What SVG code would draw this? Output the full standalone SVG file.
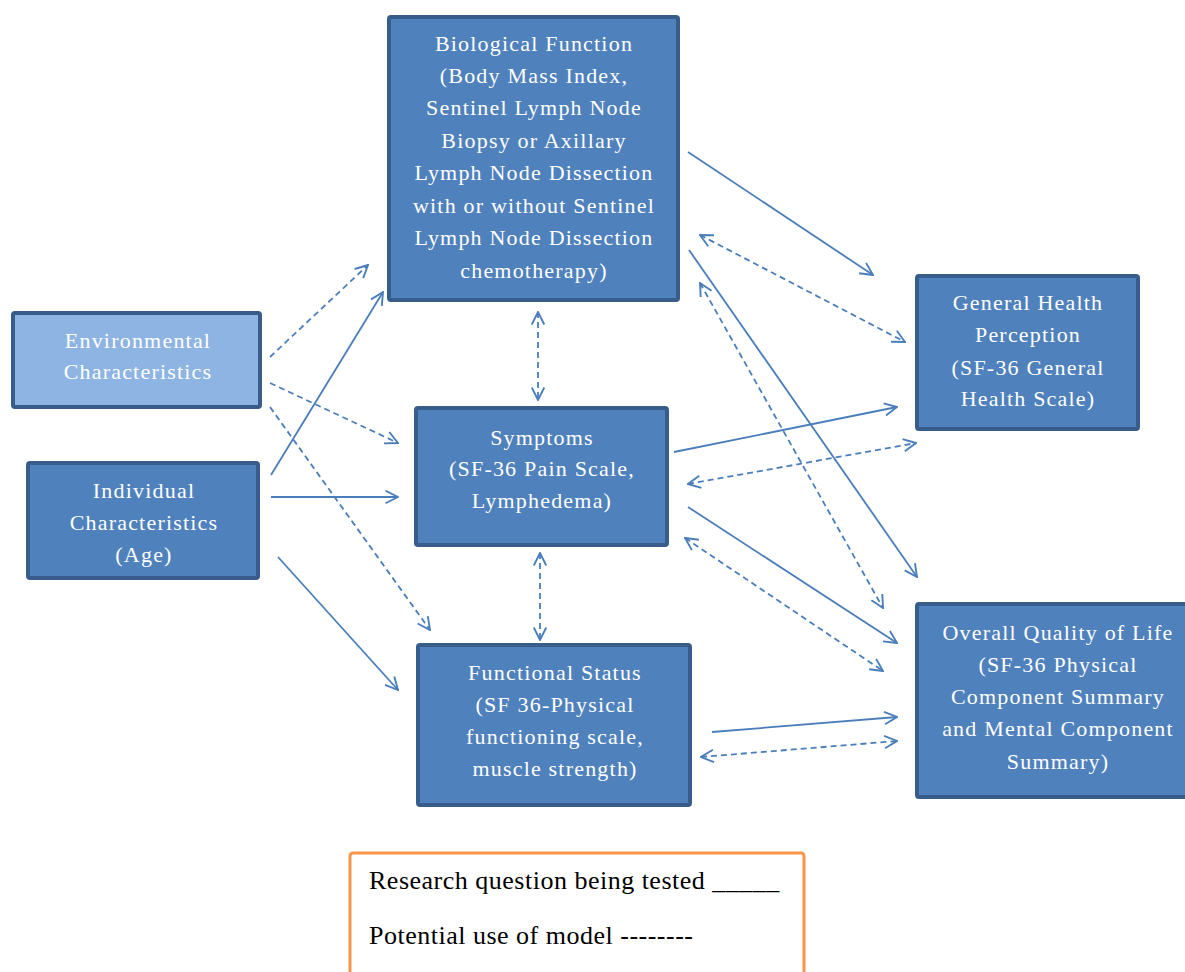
<svg xmlns="http://www.w3.org/2000/svg" width="1185" height="972" viewBox="0 0 1185 972">
<style>
.box{fill:#4f81bd;stroke:#385d8a;stroke-width:4}
.light{fill:#8eb4e3}
.t{font-family:"Liberation Serif","Times New Roman",serif;font-size:22px;letter-spacing:1.2px;fill:#ffffff;text-anchor:middle}
.c{fill:none;stroke:#4a7ebb;stroke-width:1.8}
.d{stroke-dasharray:6 4}
.lg{font-family:"Liberation Serif","Times New Roman",serif;font-size:26px;letter-spacing:0.5px;fill:#000000}
</style>
<defs>
<marker id="ah" viewBox="0 0 12 12" refX="11" refY="6" markerWidth="15" markerHeight="15" markerUnits="userSpaceOnUse" orient="auto-start-reverse">
<path d="M1,1 L11,6 L1,11" fill="none" stroke="#4a7ebb" stroke-width="1.5"/>
</marker>
</defs>
<g id="connectors">
<line class="c" x1="271" y1="475" x2="383" y2="292" marker-end="url(#ah)"/>
<line class="c" x1="271" y1="497" x2="398" y2="497" marker-end="url(#ah)"/>
<line class="c" x1="278" y1="557" x2="398" y2="690" marker-end="url(#ah)"/>
<line class="c" x1="688" y1="152" x2="873" y2="275" marker-end="url(#ah)"/>
<line class="c" x1="689" y1="250" x2="917" y2="577" marker-end="url(#ah)"/>
<line class="c" x1="674" y1="452" x2="897" y2="407" marker-end="url(#ah)"/>
<line class="c" x1="688" y1="507" x2="897" y2="643" marker-end="url(#ah)"/>
<line class="c" x1="712" y1="732" x2="897" y2="717" marker-end="url(#ah)"/>
<line class="c d" x1="270" y1="357" x2="368" y2="265" marker-end="url(#ah)"/>
<line class="c d" x1="270" y1="383" x2="398" y2="443" marker-end="url(#ah)"/>
<line class="c d" x1="270" y1="407" x2="430" y2="630" marker-end="url(#ah)"/>
<line class="c d" x1="538" y1="312" x2="538" y2="400" marker-start="url(#ah)" marker-end="url(#ah)"/>
<line class="c d" x1="540" y1="553" x2="540" y2="640" marker-start="url(#ah)" marker-end="url(#ah)"/>
<line class="c d" x1="700" y1="235" x2="905" y2="342" marker-start="url(#ah)" marker-end="url(#ah)"/>
<line class="c d" x1="688" y1="484" x2="916" y2="443" marker-start="url(#ah)" marker-end="url(#ah)"/>
<line class="c d" x1="700" y1="283" x2="883" y2="608" marker-start="url(#ah)" marker-end="url(#ah)"/>
<line class="c d" x1="685" y1="538" x2="883" y2="671" marker-start="url(#ah)" marker-end="url(#ah)"/>
<line class="c d" x1="701" y1="757" x2="897" y2="741" marker-start="url(#ah)" marker-end="url(#ah)"/>
</g>
<g id="biological">
<rect class="box" x="389" y="17" width="289" height="283" rx="2"/>
<text class="t" x="534" y="51">Biological Function</text>
<text class="t" x="534" y="83">(Body Mass Index,</text>
<text class="t" x="534" y="115">Sentinel Lymph Node</text>
<text class="t" x="534" y="148">Biopsy or Axillary</text>
<text class="t" x="534" y="180">Lymph Node Dissection</text>
<text class="t" x="534" y="213">with or without Sentinel</text>
<text class="t" x="534" y="245">Lymph Node Dissection</text>
<text class="t" x="534" y="278">chemotherapy)</text>
</g>
<g id="environmental">
<rect class="box light" x="13" y="313" width="247" height="94" rx="2"/>
<text class="t" x="138" y="348">Environmental</text>
<text class="t" x="138" y="379">Characteristics</text>
</g>
<g id="individual">
<rect class="box" x="28" y="463" width="230" height="115" rx="2"/>
<text class="t" x="144" y="498">Individual</text>
<text class="t" x="144" y="530">Characteristics</text>
<text class="t" x="144" y="562">(Age)</text>
</g>
<g id="symptoms">
<rect class="box" x="416" y="408" width="251" height="137" rx="2"/>
<text class="t" x="542" y="445">Symptoms</text>
<text class="t" x="542" y="476">(SF-36 Pain Scale,</text>
<text class="t" x="542" y="508">Lymphedema)</text>
</g>
<g id="functional">
<rect class="box" x="418" y="645" width="272" height="160" rx="2"/>
<text class="t" x="555" y="680">Functional Status</text>
<text class="t" x="555" y="712">(SF 36-Physical</text>
<text class="t" x="555" y="744">functioning scale,</text>
<text class="t" x="555" y="776">muscle strength)</text>
</g>
<g id="general-health">
<rect class="box" x="917" y="276" width="221" height="153" rx="2"/>
<text class="t" x="1028" y="310">General Health</text>
<text class="t" x="1028" y="342">Perception</text>
<text class="t" x="1028" y="375">(SF-36 General</text>
<text class="t" x="1028" y="406">Health Scale)</text>
</g>
<g id="overall">
<rect class="box" x="917" y="604" width="275" height="193" rx="2"/>
<text class="t" x="1058" y="640">Overall Quality of Life</text>
<text class="t" x="1058" y="672">(SF-36 Physical</text>
<text class="t" x="1058" y="704">Component Summary</text>
<text class="t" x="1058" y="736">and Mental Component</text>
<text class="t" x="1058" y="769">Summary)</text>
</g>
<g id="legend">
<rect x="350" y="853" width="454" height="130" rx="3" fill="#ffffff" stroke="#f79646" stroke-width="3"/>
<text class="lg" x="369" y="889">Research question being tested _____</text>
<text class="lg" x="369" y="944">Potential use of model --------</text>
</g>
</svg>
